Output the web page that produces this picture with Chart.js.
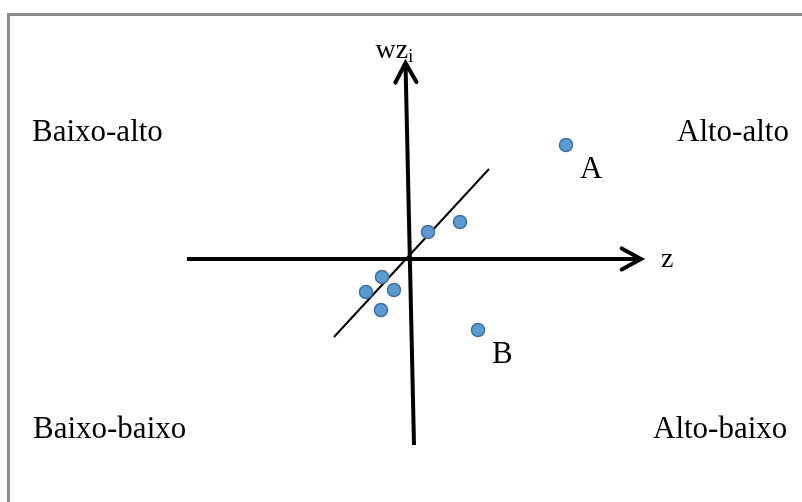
<!DOCTYPE html>
<html>
<head>
<meta charset="utf-8">
<script src="https://cdn.jsdelivr.net/npm/chart.js@4.4.0/dist/chart.umd.min.js"></script>
<style>
  html, body { margin: 0; padding: 0; background: #fff; overflow: hidden; }
  canvas { display: block; }
</style>
</head>
<body>
<canvas id="moranChart" width="802" height="502"></canvas>
<script>
// Moran scatter: z on the horizontal axis, spatial lag wz on the vertical one
var zValues    = [2.0, 5.2, -2.6, -4.2, -1.4, -2.7, 7.0, 15.8];
var wzValues   = [2.7, 3.7, -1.8, -3.3, -3.1, -5.1, -7.1, 11.4];
var pointNames = ["", "", "", "", "", "", "B", "A"];

// axis arrows and the regression line (start, end)
var zAxisX  = [-22.1, 23.3];
var zAxisY  = [0, 0];
var wzAxisX = [0.6, -0.25];
var wzAxisY = [-18.6, 19.6];
var fitX    = [-7.4, 8.1];
var fitY    = [-7.8, 9.0];

// quadrant captions and where they sit (data units)
var quadrantNames = ["Baixo-alto", "Alto-alto", "Baixo-baixo", "Alto-baixo"];
var quadrantX     = [-37.6, 26.9, -37.5, 24.5];
var quadrantY     = [11.8, 11.8, -17.9, -17.9];

var serif = "'Liberation Serif', 'Times New Roman', serif";

function pairs(xs, ys) {
  return xs.map(function (x, i) { return { x: x, y: ys[i] }; });
}

// grey frame round the figure (only top and left show)
var framePlugin = {
  id: 'frame',
  beforeDraw: function (chart) {
    var ctx = chart.ctx;
    ctx.save();
    ctx.strokeStyle = '#8c8c8c';
    ctx.lineWidth = 3;
    ctx.beginPath();
    ctx.moveTo(8.5, chart.height);
    ctx.lineTo(8.5, 14.5);
    ctx.lineTo(chart.width, 14.5);
    ctx.stroke();
    ctx.restore();
  }
};

// arrow heads on datasets flagged with arrow: true
var arrowPlugin = {
  id: 'arrows',
  afterDatasetsDraw: function (chart) {
    var ctx = chart.ctx;
    chart.data.datasets.forEach(function (ds, i) {
      if (!ds.arrow) return;
      var pts = chart.getDatasetMeta(i).data;
      var a = pts[pts.length - 2], b = pts[pts.length - 1];
      var ang = Math.atan2(b.y - a.y, b.x - a.x);
      var len = 22, spread = 0.5;
      ctx.save();
      ctx.strokeStyle = '#000';
      ctx.lineWidth = ds.borderWidth;
      ctx.lineCap = 'round';
      ctx.lineJoin = 'miter';
      ctx.beginPath();
      ctx.moveTo(b.x - len * Math.cos(ang - spread), b.y - len * Math.sin(ang - spread));
      ctx.lineTo(b.x, b.y);
      ctx.lineTo(b.x - len * Math.cos(ang + spread), b.y - len * Math.sin(ang + spread));
      ctx.stroke();
      ctx.restore();
    });
  }
};

// captions: quadrants, point names, axis names
var labelPlugin = {
  id: 'captions',
  afterDraw: function (chart) {
    var ctx = chart.ctx;
    var xs = chart.scales.x, ys = chart.scales.y;
    ctx.save();
    ctx.fillStyle = '#000';
    ctx.textBaseline = 'alphabetic';
    ctx.textAlign = 'left';
    ctx.font = '31px ' + serif;
    quadrantNames.forEach(function (t, i) {
      ctx.fillText(t, xs.getPixelForValue(quadrantX[i]), ys.getPixelForValue(quadrantY[i]));
    });
    var meta = chart.getDatasetMeta(0).data;
    pointNames.forEach(function (t, i) {
      if (!t) return;
      ctx.fillText(t, meta[i].x + 14, meta[i].y + 33);
    });
    // axis names next to the arrow tips
    var zTip = chart.getDatasetMeta(1).data[1];
    var wTip = chart.getDatasetMeta(2).data[1];
    ctx.font = '28px ' + serif;
    ctx.fillText('z', zTip.x + 20, zTip.y + 8);
    ctx.fillText('wz', wTip.x - 30, wTip.y - 5);
    var wzW = ctx.measureText('wz').width;
    ctx.font = '18px ' + serif;
    ctx.fillText('i', wTip.x - 30 + wzW, wTip.y - 1);
    ctx.restore();
  }
};

var ctx = document.getElementById('moranChart');
var moranChart = new Chart(ctx, {
  type: 'scatter',
  data: {
    datasets: [
      {
        label: 'Municipios',
        data: pairs(zValues, wzValues),
        backgroundColor: '#5b9bd5',
        borderColor: '#41719c',
        borderWidth: 1.5,
        pointRadius: 6.5,
        order: 0
      },
      {
        label: 'z',
        data: pairs(zAxisX, zAxisY),
        showLine: true,
        arrow: true,
        borderColor: '#000',
        borderWidth: 4,
        pointRadius: 0,
        order: 1
      },
      {
        label: 'wz',
        data: pairs(wzAxisX, wzAxisY),
        showLine: true,
        arrow: true,
        borderColor: '#000',
        borderWidth: 4,
        pointRadius: 0,
        order: 1
      },
      {
        label: 'ajuste',
        data: pairs(fitX, fitY),
        showLine: true,
        borderColor: '#000',
        borderWidth: 2,
        pointRadius: 0,
        order: 2
      }
    ]
  },
  options: {
    responsive: false,
    animation: false,
    layout: { padding: 0, autoPadding: false },
    plugins: {
      legend: { display: false },
      tooltip: { enabled: false }
    },
    scales: {
      x: { type: 'linear', min: -40.8, max: 39.4, display: false },
      y: { type: 'linear', min: -24.3, max: 25.9, display: false }
    }
  },
  plugins: [framePlugin, arrowPlugin, labelPlugin]
});
</script>
</body>
</html>
